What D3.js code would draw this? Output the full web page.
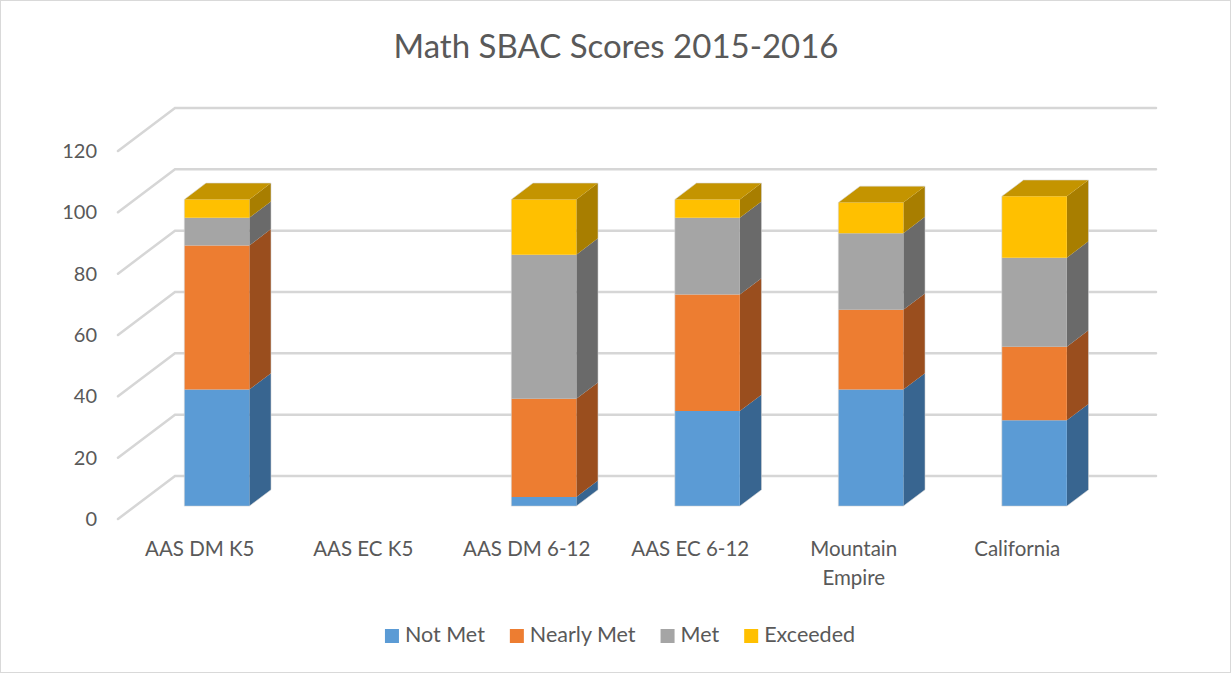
<!DOCTYPE html>
<html>
<head>
<meta charset="utf-8">
<script src="https://cdn.jsdelivr.net/npm/d3@7"></script>
<style>
  body { margin: 0; background: #fff; }
  text { font-family: Lato, "Open Sans", sans-serif; fill: #595959; }
</style>
</head>
<body>
<svg id="chart" width="1232" height="673"></svg>
<script>
// data
let categories = ["AAS DM K5", "AAS EC K5", "AAS DM 6-12", "AAS EC 6-12", "Mountain Empire", "California"];
let seriesNames = ["Not Met", "Nearly Met", "Met", "Exceeded"];
let notMet    = [38, null, 3, 31, 38, 28];
let nearlyMet = [47, null, 32, 38, 26, 24];
let met       = [9, null, 47, 25, 25, 29];
let exceeded  = [6, null, 18, 6, 10, 20];
let yTicks = [0, 20, 40, 60, 80, 100, 120];

let frontColors = ["#5B9BD5", "#ED7D31", "#A5A5A5", "#FFC000"];
let sideColors  = ["#386590", "#9A4E1E", "#6A6A6A", "#A87E00"];
let topColors   = ["#4A82B5", "#C4662A", "#8A8A8A", "#C49400"];

let svg = d3.select("#chart");
let width = 1232, height = 673;

// border round the chart area
svg.append("rect")
    .attr("x", 0.5).attr("y", 0.5)
    .attr("width", width - 2).attr("height", height - 1)
    .attr("fill", "none").attr("stroke", "#d9d9d9");

// front plane scales; depth goes up and to the right
let depth = { dx: 57, dy: -43 };
let x = d3.scaleBand().domain(categories).range([118, 1099]);
let y = d3.scaleLinear().domain([0, 120]).range([519, 151]);
let barFront = 0.30, barBack = 0.68, barWidth = 65;

function proj(px, v, t) {
    return [px + t * depth.dx, y(v) + t * depth.dy];
}

// title
svg.append("text")
    .attr("x", 616).attr("y", 58)
    .attr("text-anchor", "middle")
    .style("font-size", "33px")
    .text("Math SBAC Scores 2015-2016");

// gridlines: slanted side wall then back wall
let grid = svg.append("g");
yTicks.forEach(function(t) {
    let p0 = proj(x.range()[0], t, 0),
        p1 = proj(x.range()[0], t, 1),
        p2 = proj(x.range()[1], t, 1);
    grid.append("polyline")
        .attr("points", [p0, p1, p2].map(p => p.join(",")).join(" "))
        .attr("fill", "none")
        .attr("stroke", "#d6d6d6")
        .attr("stroke-width", 2.5)
        .attr("stroke-linecap", "round");
});

// y tick labels
svg.append("g").selectAll("text")
    .data(yTicks)
    .join("text")
    .attr("x", 97)
    .attr("y", d => y(d) + 2)
    .attr("text-anchor", "end")
    .attr("dominant-baseline", "middle")
    .style("font-size", "20px")
    .text(d => d);

// stack the series
let rows = categories.map(function(c, i) {
    return { cat: c, "Not Met": notMet[i], "Nearly Met": nearlyMet[i], "Met": met[i], "Exceeded": exceeded[i] };
});
let stacked = d3.stack().keys(seriesNames).value((d, k) => d[k] || 0)(rows);

let bars = svg.append("g");
categories.forEach(function(c, i) {
    if (notMet[i] == null) return;
    let x0 = x(c) + x.bandwidth() / 2 - barWidth / 2,
        x1 = x0 + barWidth;
    // find the top segment that has a value
    let topIdx = -1;
    stacked.forEach(function(s, k) { if (s[i][1] - s[i][0] > 0) topIdx = k; });

    stacked.forEach(function(s, k) {
        let lo = s[i][0], hi = s[i][1];
        if (hi - lo <= 0) return;
        let a = proj(x0, hi, barFront), b = proj(x1, hi, barFront),
            cc = proj(x1, lo, barFront), d = proj(x0, lo, barFront);
        let bb = proj(x1, hi, barBack), cb = proj(x1, lo, barBack), ab = proj(x0, hi, barBack);
        // side face
        bars.append("polygon")
            .attr("points", [b, bb, cb, cc].map(p => p.join(",")).join(" "))
            .attr("fill", sideColors[k]);
        // front face
        bars.append("polygon")
            .attr("points", [a, b, cc, d].map(p => p.join(",")).join(" "))
            .attr("fill", frontColors[k]);
        if (k == topIdx) {
            bars.append("polygon")
                .attr("points", [a, ab, bb, b].map(p => p.join(",")).join(" "))
                .attr("fill", topColors[k]);
        }
    });
    // faint outline
    let o = [proj(x0, 0, barFront), proj(x0, stacked[topIdx][i][1], barFront),
             proj(x0, stacked[topIdx][i][1], barBack), proj(x1, stacked[topIdx][i][1], barBack),
             proj(x1, 0, barBack), proj(x1, 0, barFront)];
    bars.append("polygon")
        .attr("points", o.map(p => p.join(",")).join(" "))
        .attr("fill", "none")
        .attr("stroke", "rgba(210,210,210,0.7)")
        .attr("stroke-width", 0.8);
});

// category labels, wrapped when long
let xl = svg.append("g");
categories.forEach(function(c) {
    let t = xl.append("text")
        .attr("x", x(c) + x.bandwidth() / 2)
        .attr("y", 556)
        .attr("text-anchor", "middle")
        .style("font-size", "20.5px")
        .text(c);
    if (t.node().getComputedTextLength() > 145) {
        let words = c.split(" ");
        t.text(null);
        words.forEach(function(w, j) {
            t.append("tspan")
                .attr("x", x(c) + x.bandwidth() / 2)
                .attr("dy", j == 0 ? 0 : 29)
                .text(w);
        });
    }
});

// legend, centred
let legend = svg.append("g");
let pos = 0;
seriesNames.forEach(function(s, k) {
    let g = legend.append("g").attr("transform", "translate(" + pos + ",0)");
    g.append("rect")
        .attr("x", 0).attr("y", -7)
        .attr("width", 14).attr("height", 14)
        .attr("fill", frontColors[k]);
    let t = g.append("text")
        .attr("x", 20).attr("y", 1)
        .attr("dominant-baseline", "middle")
        .style("font-size", "21.5px")
        .text(s);
    pos += 20 + t.node().getComputedTextLength() + 25;
});
let legendWidth = pos - 25;
legend.attr("transform", "translate(" + (620 - legendWidth / 2) + ",636)");
</script>
</body>
</html>
